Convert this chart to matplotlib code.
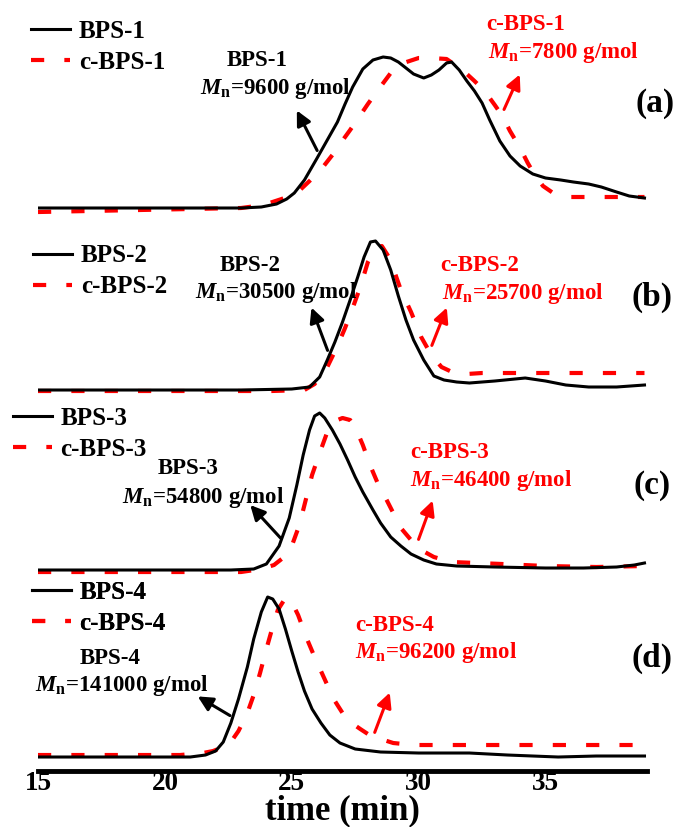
import numpy as np
import matplotlib
matplotlib.use('Agg')
import matplotlib.pyplot as plt
from matplotlib.lines import Line2D

plt.rcParams['font.family'] = ['Liberation Serif', 'DejaVu Serif']
plt.rcParams['font.weight'] = 'bold'
plt.rcParams['mathtext.fontset'] = 'custom'
plt.rcParams['mathtext.rm'] = 'Liberation Serif:bold'
plt.rcParams['mathtext.it'] = 'Liberation Serif:italic:bold'
plt.rcParams['mathtext.bf'] = 'Liberation Serif:bold'
plt.rcParams['lines.scale_dashes'] = False

# ---- data (time in min, signal height above each trace's baseline) ----
t_a_bps = [15, 18, 21, 23, 23.8, 24.4, 24.8, 25.1, 25.5, 26.0, 26.4, 26.8, 27.1, 27.4, 27.8, 28.2, 28.6,
           28.9, 29.2, 29.5, 29.8, 30.2, 30.5, 30.8, 31.1, 31.3, 31.6, 31.9, 32.2, 32.5, 32.8, 33.2,
           33.6, 34.0, 34.5, 35.0, 35.6, 36.1, 36.7, 37.2, 37.8, 38.3, 38.9]
y_a_bps = [0, 0, 0, 0, 1, 4, 9, 15, 28, 50, 68, 86, 104, 121, 139, 148, 151,
           150, 146, 140, 134, 130, 133, 138, 145, 146, 138, 127, 117, 105, 88, 67,
           52, 42, 34, 30, 28, 26, 24, 21, 16, 12, 10]
t_a_cbps = [15, 17, 19, 21, 23, 23.6, 24.0, 24.6, 25.2, 25.7, 26.2, 26.6, 26.9, 27.3, 27.6, 28.0, 28.4,
            28.9, 29.4, 30.0, 30.5, 31.1, 31.5, 31.9, 32.2, 32.6, 33.0, 33.3, 33.6, 34.0, 34.3, 34.6,
            34.9, 35.3, 35.9, 37.0, 38.0, 38.9]
y_a_cbps = [-4, -3, -2, -1, 0, 2, 4, 9, 15, 27, 40, 53, 64, 78, 89, 104, 118,
            135, 145, 150, 150, 149, 142, 134, 127, 117, 103, 92, 77, 60, 45, 32,
            22, 15, 11, 11, 11, 11]

t_b_bps = [15, 20, 23, 25.0, 25.7, 26.1, 26.4, 26.7, 27.0, 27.3, 27.6, 27.85, 28.1, 28.3, 28.6, 28.9,
           29.2, 29.5, 29.8, 30.2, 30.6, 31.0, 31.5, 32.0, 33.0, 34.2, 35.0, 35.8, 36.7, 37.8, 38.9]
y_b_bps = [0, 0, 0, 1, 3, 13, 30, 48, 68, 90, 113, 133, 148, 149, 140, 120,
           94, 70, 50, 30, 14, 10, 8, 7, 9, 12, 9, 5, 3, 3, 5]
t_b_cbps = [15, 20, 24.2, 25.5, 25.9, 26.4, 26.8, 27.1, 27.4, 27.7, 28.0, 28.3, 28.55, 28.8, 29.05,
            29.3, 29.7, 30.1, 30.5, 30.9, 31.4, 31.9, 32.5, 34, 36, 38.9]
y_b_cbps = [-1, -1, -1, 0, 6, 23, 44, 62, 82, 103, 128, 142, 144, 134, 118,
            100, 78, 53, 35, 23, 17, 16, 17, 17, 17, 17]

t_c_bps = [15, 20, 22.6, 23.5, 24.0, 24.5, 24.9, 25.2, 25.45, 25.7, 25.9, 26.1, 26.3, 26.6, 26.9, 27.2,
           27.5, 27.8, 28.2, 28.5, 28.9, 29.3, 29.7, 30.2, 30.7, 31.5, 33, 35, 36.5, 37.8, 38.5, 38.9]
y_c_bps = [0, 0, 0, 1, 6, 24, 52, 85, 115, 140, 154, 157, 152, 140, 126, 110,
           93, 78, 60, 47, 33, 24, 16, 10, 6, 4, 3, 2, 2, 3, 5, 7]
t_c_cbps = [15, 20, 23.0, 23.8, 24.3, 24.7, 25.0, 25.3, 25.6, 25.8, 26.1, 26.4, 26.7, 27.0, 27.3, 27.5,
            27.8, 28.1, 28.4, 28.7, 29.0, 29.3, 29.7, 30.1, 30.6, 31.3, 32.3, 33.3, 35, 37, 38.9]
y_c_cbps = [-2, -2, -2, 1, 5, 13, 24, 45, 75, 95, 117, 138, 149, 152, 150, 143,
            125, 104, 86, 72, 57, 42, 30, 20, 13, 8, 7, 6, 4, 3, 4]

t_d_bps = [15, 20, 21.0, 21.6, 22.0, 22.3, 22.6, 22.9, 23.25, 23.5, 23.8, 24.05, 24.25, 24.5, 24.75,
           25.0, 25.25, 25.5, 25.8, 26.15, 26.5, 26.9, 27.5, 28.5, 30, 32, 33.5, 35.5, 37, 38.9]
y_d_bps = [0, 0, 0, 2, 6, 15, 34, 58, 90, 118, 145, 160, 158, 148, 128,
           106, 85, 66, 48, 34, 22, 14, 8, 5, 4, 4, 2, 0, 1, 1]
t_d_cbps = [15, 18, 20.6, 21.5, 21.9, 22.3, 22.6, 22.9, 23.25, 23.5, 23.75, 24.0, 24.2, 24.45, 24.7,
            24.85, 25.0, 25.25, 25.6, 25.9, 26.15, 26.4, 26.7, 27.0, 27.3, 27.7, 28.0, 28.5, 29.0,
            29.8, 31, 35, 38.9]
y_d_cbps = [2, 2, 2, 4, 6, 10, 15, 26, 44, 62, 84, 108, 126, 147, 157,
            159, 155, 142, 118, 100, 86, 72, 56, 44, 35, 28, 23, 18, 14,
            12, 12, 12, 12]

names = ['BPS-1', 'BPS-2', 'BPS-3', 'BPS-4']
mn_bps = [9600, 30500, 54800, 141000]
mn_cbps = [7800, 25700, 46400, 96200]
panels = ['(a)', '(b)', '(c)', '(d)']

traces = [(t_a_bps, y_a_bps, t_a_cbps, y_a_cbps),
          (t_b_bps, y_b_bps, t_b_cbps, y_b_cbps),
          (t_c_bps, y_c_bps, t_c_cbps, y_c_cbps),
          (t_d_bps, y_d_bps, t_d_cbps, y_d_cbps)]

# layout: baseline of each trace, label/arrow placement
offsets = [563, 381, 201, 14]
lab_black = [(23.65, 711, 24.36, 683), (23.37, 506, 24.40, 479), (20.92, 303, 21.51, 274), (17.84, 113, 18.32, 86)]
arr_black = [((26.05, 618), (25.15, 663)), ((26.45, 418), (25.74, 466)),
             ((24.63, 231), (23.29, 268)), ((22.66, 54), (21.20, 76))]
lab_red = [(34.23, 747, 35.69, 719), (32.41, 506, 34.11, 478), (31.23, 319, 32.84, 291), (29.05, 146, 30.71, 119)]
arr_red = [((33.32, 659), (34.03, 699)), ((30.48, 423), (31.15, 466)),
           ((29.96, 229), (30.59, 273)), ((28.23, 36), (28.90, 81))]
panel_pos = [(39.3, 668), (39.2, 474), (39.2, 286), (39.2, 113)]
leg_pos = [(0.046, 0.943), (0.049, 0.672), (0.019, 0.475), (0.047, 0.265)]

fig = plt.figure(figsize=(6.8, 8.27), dpi=100)
ax = fig.add_axes([0.0559, 0.0677, 0.8956, 0.9323])

red_kw = dict(color='red', lw=3.0, dashes=(9.5, 14.5))
blk_kw = dict(color='black', lw=2.2)

for i, (tb, yb, tc, yc) in enumerate(traces):
    off = offsets[i]
    ax.plot(tc, np.array(yc) + off, **red_kw)
    ax.plot(tb, np.array(yb) + off, **blk_kw)

    x1, y1, x2, y2 = lab_black[i]
    ax.text(x1, y1, names[i], ha='center', va='center', fontsize=16.5, fontweight='bold')
    ax.text(x2, y2, r'$\mathit{M}_\mathregular{n}$=%d g/mol' % mn_bps[i], ha='center', va='center',
            fontsize=16.5, fontweight='bold')
    ax.annotate('', xy=arr_black[i][1], xytext=arr_black[i][0],
                arrowprops=dict(arrowstyle='-|>', color='black', lw=2.2, mutation_scale=22))

    x1, y1, x2, y2 = lab_red[i]
    ax.text(x1, y1, 'c-' + names[i], ha='center', va='center', fontsize=16.5, fontweight='bold', color='red')
    ax.text(x2, y2, r'$\mathit{M}_\mathregular{n}$=%d g/mol' % mn_cbps[i], ha='center', va='center',
            fontsize=16.5, fontweight='bold', color='red')
    ax.annotate('', xy=arr_red[i][1], xytext=arr_red[i][0],
                arrowprops=dict(arrowstyle='-|>', color='red', lw=2.2, mutation_scale=22))

    ax.text(panel_pos[i][0], panel_pos[i][1], panels[i], ha='center', va='center', fontsize=24,
            fontweight='bold')

    handles = [Line2D([], [], **blk_kw), Line2D([], [], **red_kw)]
    leg = ax.legend(handles, [names[i], 'c-' + names[i]], loc='center left',
                    bbox_to_anchor=leg_pos[i], bbox_transform=fig.transFigure,
                    frameon=False, handlelength=1.55, handletextpad=0.35,
                    labelspacing=0.32, borderpad=0, borderaxespad=0,
                    prop=dict(weight='bold', size=18))
    ax.add_artist(leg)

ax.set_xlim(15, 39)
ax.set_ylim(0, 771)
ax.set_xticks([15, 20, 25, 30, 35])
ax.tick_params(axis='x', length=0, pad=0, labelsize=19.5)
ax.set_yticks([])
for s in ['left', 'right', 'top']:
    ax.spines[s].set_visible(False)
ax.spines['bottom'].set_linewidth(3.5)
ax.set_xlabel('time (min)', fontsize=25, fontweight='bold', labelpad=-1)
ax.patch.set_alpha(0)

fig.savefig('out.png', dpi=100)
